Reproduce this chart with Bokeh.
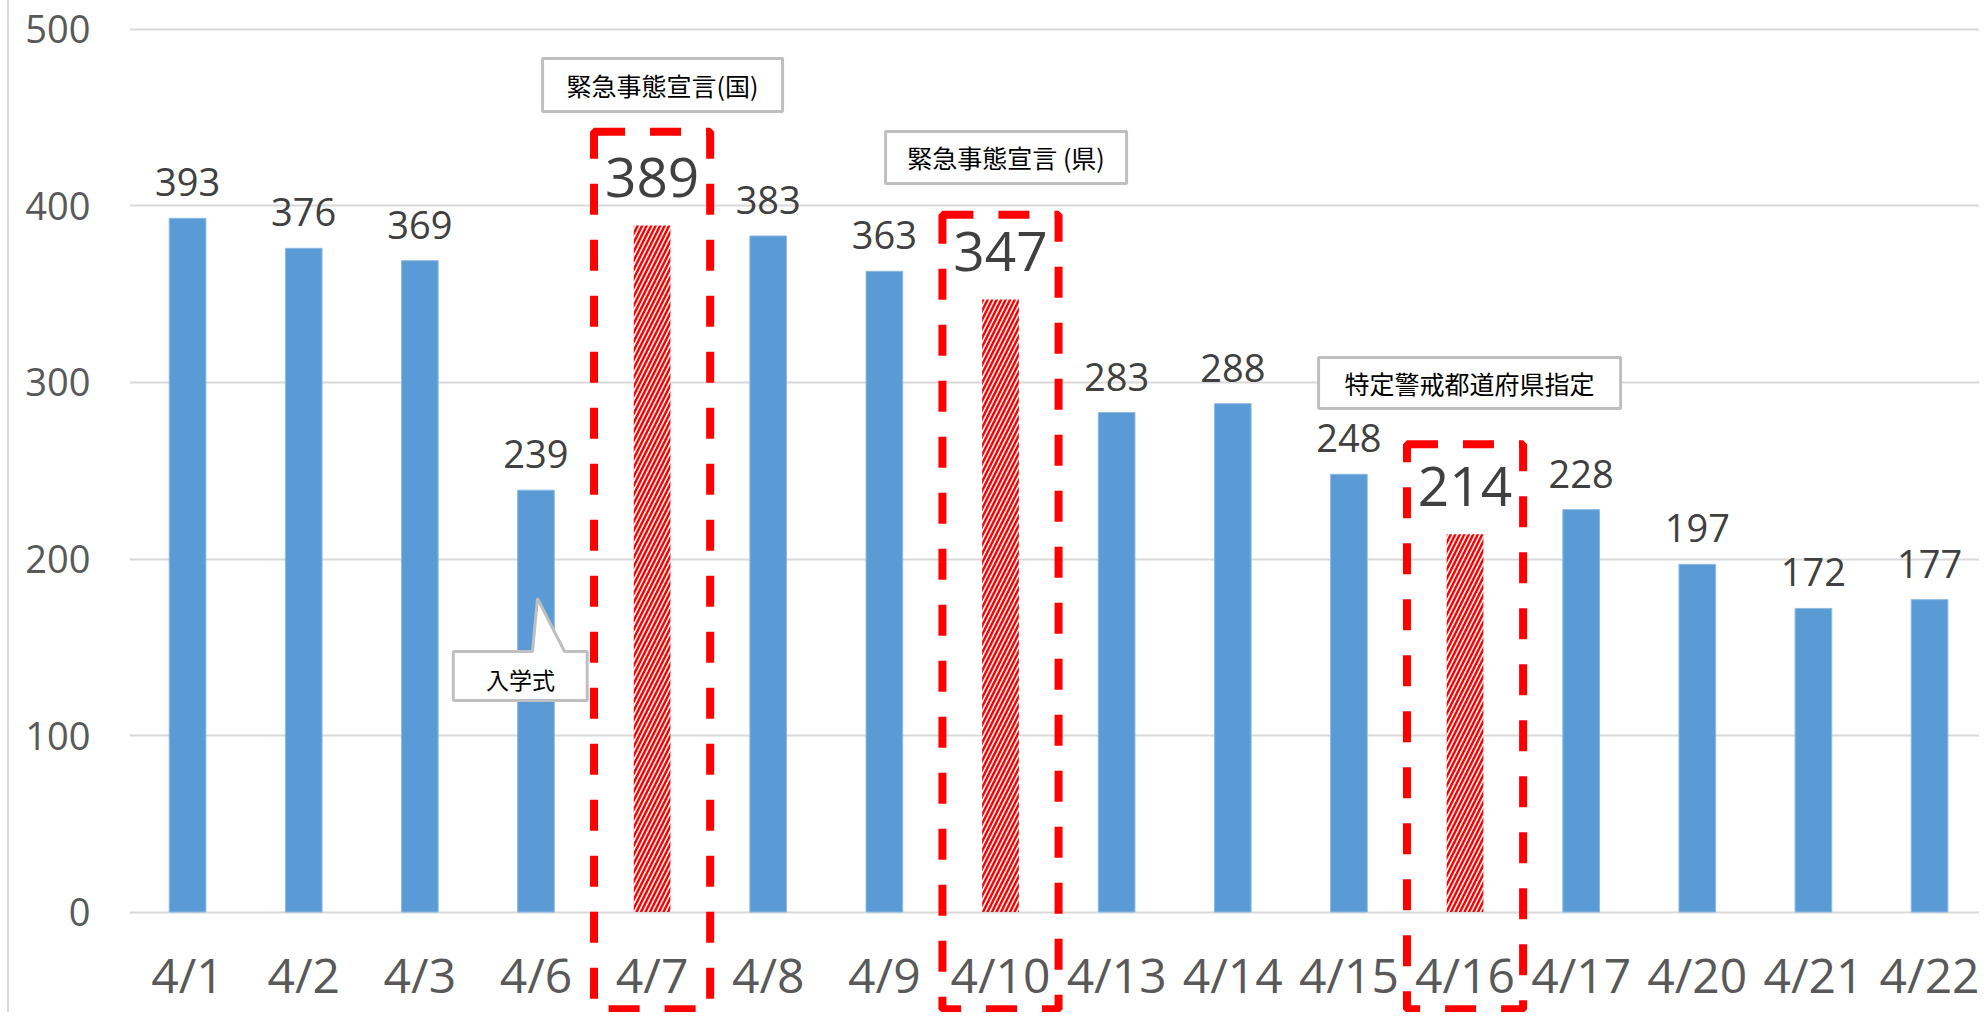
from bokeh.plotting import figure
from bokeh.models import ColumnDataSource, Range1d, FixedTicker
from bokeh.core.properties import value
from bokeh.embed import file_html
from bokeh.resources import INLINE

# ---- data ----
dates = ["4/1", "4/2", "4/3", "4/6", "4/7", "4/8", "4/9", "4/10",
         "4/13", "4/14", "4/15", "4/16", "4/17", "4/20", "4/21", "4/22"]
counts = [393, 376, 369, 239, 389, 383, 363, 347,
          283, 288, 248, 214, 228, 197, 172, 177]
highlighted = ["4/7", "4/10", "4/16"]
y_ticks = [0, 100, 200, 300, 400, 500]

# annotation boxes (text notes above highlighted days)
note_texts = ["緊急事態宣言(国)", "緊急事態宣言 (県)", "特定警戒都道府県指定"]
note_x = [4.59, 7.548, 11.539]
note_y = [468.6, 427.5, 299.7]
note_w = [240, 241, 302]
note_h = [53, 52, 51]

# red dashed frames around highlighted days
frame_tops = [442, 395, 265]
frame_bottom = -55

# callout "入学式"
callout_text = "入学式"
callout_xs = [2.788, 3.470, 3.513, 3.746, 3.941, 3.941, 2.788]
callout_ys = [147.6, 147.6, 177.6, 147.6, 147.6, 119.8, 119.8]
callout_label_pos = (3.367, 132.3)

# ---- build ----
xs = [i + 0.5 for i in range(len(dates))]
normal = [i for i, d in enumerate(dates) if d not in highlighted]
special = [i for i, d in enumerate(dates) if d in highlighted]

src_n = ColumnDataSource(dict(x=[xs[i] for i in normal],
                              top=[counts[i] for i in normal],
                              lab=[str(counts[i]) for i in normal]))
src_s = ColumnDataSource(dict(x=[xs[i] for i in special],
                              top=[counts[i] for i in special],
                              lab=[str(counts[i]) for i in special]))

p = figure(width=1979, height=1012,
           x_range=Range1d(0, 15.93), y_range=Range1d(-56.9, 516.4),
           output_backend="svg", toolbar_location=None,
           x_axis_location=None,
           min_border_left=129, min_border_right=0,
           min_border_top=0, min_border_bottom=0)
p.outline_line_color = None
p.background_fill_color = "white"
p.border_fill_color = None
p.styles = {"background": "linear-gradient(90deg, #ffffff 0px, #ffffff 7px, #d9d9d9 7px, #d9d9d9 9px, #ffffff 9px, #ffffff 100%)"}

ax = p.yaxis[0]
ax.ticker = FixedTicker(ticks=y_ticks)
ax.axis_line_color = None
ax.major_tick_line_color = None
ax.minor_tick_line_color = None
ax.major_tick_in = 0
ax.major_tick_out = 0
ax.major_label_standoff = 39
ax.major_label_text_font = "Open Sans"
ax.major_label_text_font_size = "38px"
ax.major_label_text_color = "#595959"

p.xgrid.grid_line_color = None
p.ygrid.grid_line_color = "#d9d9d9"
p.ygrid.grid_line_width = 2

# bars
p.vbar(x="x", top="top", bottom=0, width=0.316, source=src_n,
       fill_color="#5b9bd5", line_color="#8fbbe3", line_width=1)
p.vbar(x="x", top="top", bottom=0, width=0.316, source=src_s,
       fill_color="white", line_color=None,
       hatch_pattern="/", hatch_color="#ff0000", hatch_scale=9, hatch_weight=2.5)

# value labels
p.text(x="x", y="top", text="lab", source=src_n, y_offset=-36,
       text_align="center", text_baseline="alphabetic",
       text_font=value("Open Sans"), text_font_size="38px", text_color="#404040")
p.text(x="x", y="top", text="lab", source=src_s, y_offset=-48,
       text_align="center", text_baseline="alphabetic",
       text_font=value("Open Sans"), text_font_size="55px", text_color="#404040")

# category labels
p.text(x=xs, y=[-35.3] * len(dates), text=dates,
       text_align="center", text_baseline="alphabetic",
       text_font=value("Open Sans"), text_font_size="48px", text_color="#595959")

# red dashed frames
p.rect(x=[xs[i] for i in special],
       y=[(t + frame_bottom) / 2 for t in frame_tops],
       width=1.0, height=[t - frame_bottom for t in frame_tops],
       fill_color=None, line_color="#ff0000", line_width=8, line_dash="31 25")

# note boxes
p.rect(x=note_x, y=note_y, width=note_w, height=note_h,
       width_units="screen", height_units="screen",
       fill_color="white", line_color="#bfbfbf", line_width=3)
p.text(x=note_x, y=note_y, text=note_texts,
       text_align="center", text_baseline="middle",
       text_font=value("Noto Sans CJK JP"), text_font_size="25px",
       text_color="#000000")

# callout
p.patch(callout_xs, callout_ys, fill_color="white", line_color="#bfbfbf", line_width=3)
p.text(x=[callout_label_pos[0]], y=[callout_label_pos[1]], text=[callout_text],
       text_align="center", text_baseline="middle",
       text_font=value("Noto Sans CJK JP"), text_font_size="23px",
       text_color="#000000")

with open("out.html", "w", encoding="utf-8") as f:
    f.write(file_html(p, INLINE))
